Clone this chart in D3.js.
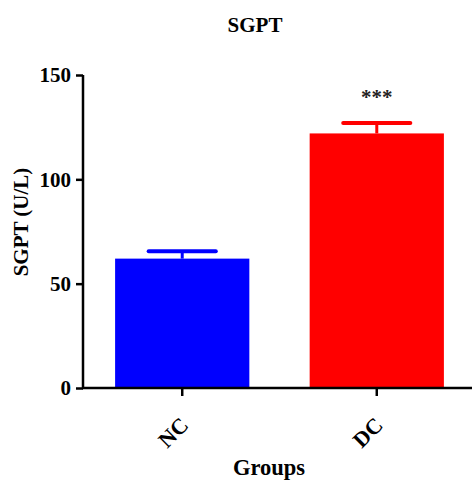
<!DOCTYPE html>
<html>
<head>
<meta charset="utf-8">
<script src="https://cdn.jsdelivr.net/npm/d3@7"></script>
<style>
  body { margin: 0; background: #fff; }
  text { font-family: "Liberation Serif", "Times New Roman", serif; font-weight: bold; }
</style>
</head>
<body>
<svg id="chart" width="472" height="482"></svg>
<script>
// data
var groups = ["NC", "DC"];
var means = [62, 122];
var sems = [3.5, 5];
var marks = ["", "***"];
var barColors = ["#0000ff", "#ff0000"];
var yTicks = [0, 50, 100, 150];

var svg = d3.select("#chart");
var x0 = 83, y0 = 388, yTop = 75;
var fs = 21;

var x = d3.scaleBand()
    .domain(groups)
    .range([x0, 476])
    .paddingInner(0.31)
    .paddingOuter(0.165);

var y = d3.scaleLinear()
    .domain([0, 150])
    .range([y0, yTop]);

// bars
svg.selectAll("rect.bar")
    .data(groups)
    .enter()
    .append("rect")
    .attr("class", "bar")
    .attr("x", function (d) { return x(d); })
    .attr("y", function (d, i) { return y(means[i]); })
    .attr("width", x.bandwidth())
    .attr("height", function (d, i) { return y0 - y(means[i]); })
    .attr("fill", function (d, i) { return barColors[i]; });

// error bars (upper only)
var capW = x.bandwidth() * 0.5;
var err = svg.selectAll("g.err")
    .data(groups)
    .enter()
    .append("g")
    .attr("class", "err");

err.append("line")
    .attr("x1", function (d) { return x(d) + x.bandwidth() / 2; })
    .attr("x2", function (d) { return x(d) + x.bandwidth() / 2; })
    .attr("y1", function (d, i) { return y(means[i]); })
    .attr("y2", function (d, i) { return y(means[i] + sems[i]); })
    .attr("stroke", function (d, i) { return barColors[i]; })
    .attr("stroke-width", 3);

err.append("line")
    .attr("x1", function (d) { return x(d) + x.bandwidth() / 2 - capW / 2; })
    .attr("x2", function (d) { return x(d) + x.bandwidth() / 2 + capW / 2; })
    .attr("y1", function (d, i) { return y(means[i] + sems[i]); })
    .attr("y2", function (d, i) { return y(means[i] + sems[i]); })
    .attr("stroke", function (d, i) { return barColors[i]; })
    .attr("stroke-width", 4)
    .attr("stroke-linecap", "round");

// significance marks
svg.selectAll("text.sig")
    .data(groups)
    .enter()
    .append("text")
    .attr("class", "sig")
    .attr("x", function (d) { return x(d) + x.bandwidth() / 2; })
    .attr("y", function (d, i) { return y(means[i] + sems[i]) - 19; })
    .attr("text-anchor", "middle")
    .attr("font-size", fs)
    .attr("fill", "#222")
    .text(function (d, i) { return marks[i]; });

// y axis
var yAxis = d3.axisLeft(y).tickValues(yTicks).tickSize(7).tickPadding(5);
var gy = svg.append("g")
    .attr("transform", "translate(" + x0 + ",0)")
    .call(yAxis);
gy.select(".domain").attr("stroke", "#000").attr("stroke-width", 2.5)
    .attr("d", "M0," + (y0 + 1) + "V" + yTop);
gy.selectAll(".tick line").attr("stroke-width", 2.5);
gy.selectAll(".tick text")
    .attr("font-size", fs)
    .attr("fill", "#000")
    .attr("font-family", "Liberation Serif, serif")
    .attr("font-weight", "bold");

// x axis
var xAxis = d3.axisBottom(x).tickSize(8);
var gx = svg.append("g")
    .attr("transform", "translate(0," + y0 + ")")
    .call(xAxis);
gx.select(".domain").attr("stroke", "#000").attr("stroke-width", 2.5)
    .attr("d", "M" + (x0 - 1) + ",0H472");
gx.selectAll(".tick line").attr("stroke-width", 2.5);
gx.selectAll(".tick text")
    .attr("font-size", 22)
    .attr("fill", "#000")
    .attr("font-family", "Liberation Serif, serif")
    .attr("font-weight", "bold")
    .attr("text-anchor", "end")
    .attr("dy", "0.35em")
    .attr("transform", "translate(2,33) rotate(-45)")
    .attr("y", 0)
    .attr("x", 0);

// title and axis labels
svg.append("text")
    .attr("x", 255)
    .attr("y", 32)
    .attr("text-anchor", "middle")
    .attr("font-size", fs)
    .text("SGPT");

svg.append("text")
    .attr("transform", "translate(28,222) rotate(-90)")
    .attr("text-anchor", "middle")
    .attr("font-size", fs)
    .text("SGPT (U/L)");

svg.append("text")
    .attr("x", 269)
    .attr("y", 475)
    .attr("text-anchor", "middle")
    .attr("font-size", 22.5)
    .text("Groups");
</script>
</body>
</html>
